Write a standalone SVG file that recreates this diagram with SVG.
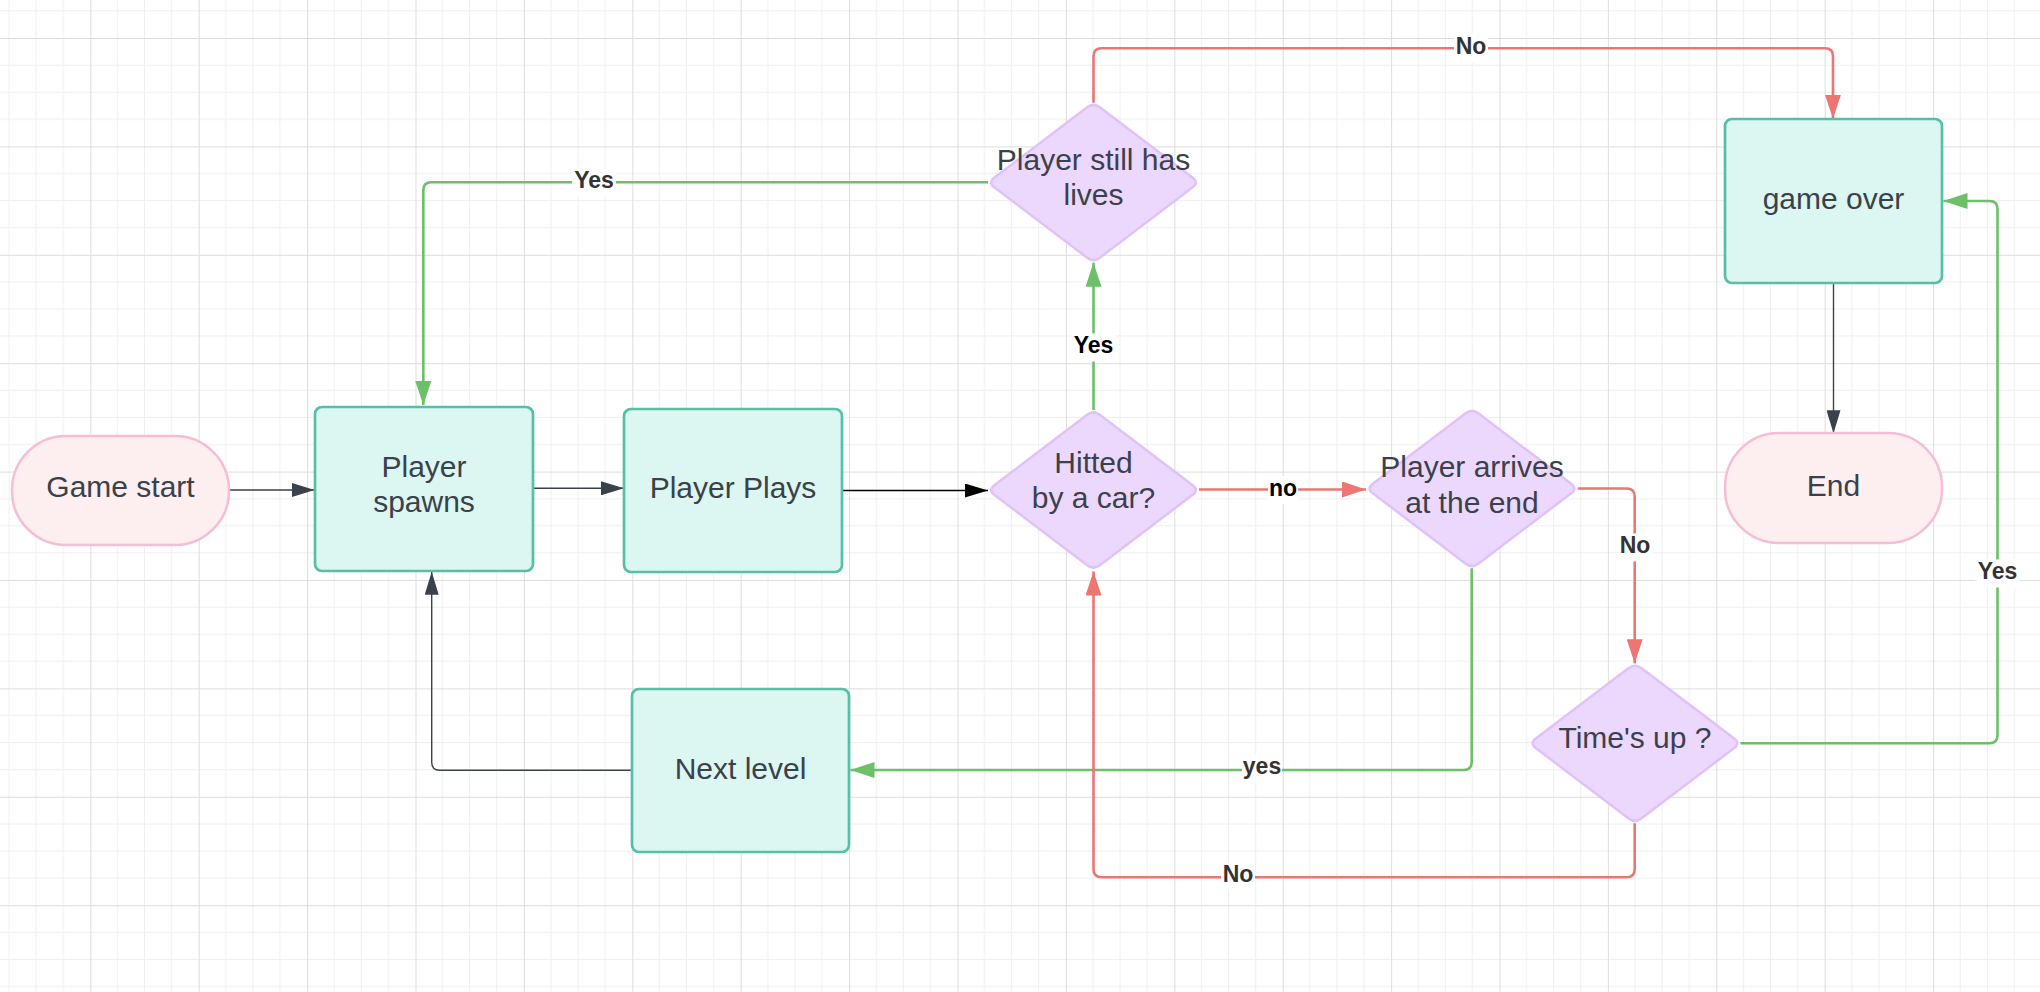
<svg xmlns="http://www.w3.org/2000/svg" xmlns:xlink="http://www.w3.org/1999/xlink" width="2040" height="992" viewBox="0 0 2040 992">
  <style>
    .proc { fill:#dcf6f1; stroke:#55c0a6; stroke-width:2.7; }
    .term { fill:#fdeef0; stroke:#f5bdd6; stroke-width:2.5; }
    .dec { fill:#ecd8fc; stroke:#dfc2f8; stroke-width:2.5; }
    .t { font-family:"Liberation Sans", Arial, sans-serif; font-size:30px; fill:#3a414a; text-anchor:middle; }
    .lbl { font-family:"Liberation Sans", Arial, sans-serif; font-size:23px; font-weight:bold; fill:#333333; text-anchor:middle; }
    .lblk { fill:#000000; }
    .bg { fill:#ffffff; stroke:none; }
    .c { fill:none; stroke-linejoin:round; }
    .c-dark { stroke:#3a414a; stroke-width:1.4; }
    .c-black { stroke:#000000; stroke-width:1.5; }
    .c-green { stroke:#6cc068; stroke-width:2.6; }
    .c-red { stroke:#ec7671; stroke-width:2.6; }
  </style>
  <defs>
    <pattern id="grid" patternUnits="userSpaceOnUse" x="90.3" y="38" width="108.4" height="108.4">
      <path d="M27.1,0V108.4M54.2,0V108.4M81.3,0V108.4M0,27.1H108.4M0,54.2H108.4M0,81.3H108.4" stroke="#eeeeee" stroke-width="1" fill="none"/>
      <path d="M0.5,0V108.4M0,0.5H108.4" stroke="#dddddd" stroke-width="1" fill="none"/>
    </pattern>
    <path id="diamond" d="M6.3,-75.2 L99.2,-4.8 Q105.5,0 99.2,4.8 L6.3,75.2 Q0,80 -6.3,75.2 L-99.2,4.8 Q-105.5,0 -99.2,-4.8 L-6.3,-75.2 Q0,-80 6.3,-75.2 Z"/>
    <marker id="a-dark" markerUnits="userSpaceOnUse" markerWidth="23" markerHeight="14" refX="23" refY="7" orient="auto">
      <path d="M0,0 L23,7 L0,14 Z" fill="#3a414a"/>
    </marker>
    <marker id="a-black" markerUnits="userSpaceOnUse" markerWidth="23" markerHeight="14" refX="23" refY="7" orient="auto">
      <path d="M0,0 L23,7 L0,14 Z" fill="#000000"/>
    </marker>
    <marker id="a-green" markerUnits="userSpaceOnUse" markerWidth="24" markerHeight="16" refX="24" refY="8" orient="auto">
      <path d="M0,0 L24,8 L0,16 Z" fill="#6cc068"/>
    </marker>
    <marker id="a-red" markerUnits="userSpaceOnUse" markerWidth="24" markerHeight="16" refX="24" refY="8" orient="auto">
      <path d="M0,0 L24,8 L0,16 Z" fill="#ec7671"/>
    </marker>
  </defs>

  <rect x="0" y="0" width="2040" height="992" fill="#ffffff"/>
  <rect x="0" y="0" width="2040" height="992" fill="url(#grid)"/>

  <g id="connectors">
    <path class="c c-dark" d="M229.6,490 H314.6" marker-end="url(#a-dark)"/>
    <path class="c c-dark" d="M533,488.3 H624" marker-end="url(#a-dark)"/>
    <path class="c c-black" d="M842,490.5 H988" marker-end="url(#a-black)"/>
    <path class="c c-red" d="M1199,489.5 H1366" marker-end="url(#a-red)"/>
    <path class="c c-green" d="M1093.5,410 V262.7" marker-end="url(#a-green)"/>
    <path class="c c-green" d="M988,182.3 H431.3 Q423.3,182.3 423.3,190.3 V405" marker-end="url(#a-green)"/>
    <path class="c c-red" d="M1093.5,102.7 V56.3 Q1093.5,48.3 1101.5,48.3 H1825 Q1833,48.3 1833,56.3 V118.8" marker-end="url(#a-red)"/>
    <path class="c c-dark" d="M1833.5,283.5 V433.3" marker-end="url(#a-dark)"/>
    <path class="c c-green" d="M1740.5,743.3 H1989.5 Q1997.5,743.3 1997.5,735.3 V209 Q1997.5,201 1989.5,201 H1943.5" marker-end="url(#a-green)"/>
    <path class="c c-red" d="M1577.7,488.5 H1626.7 Q1634.7,488.5 1634.7,496.5 V663.3" marker-end="url(#a-red)"/>
    <path class="c c-green" d="M1471.7,568.3 V762 Q1471.7,770 1463.7,770 H850.5" marker-end="url(#a-green)"/>
    <path class="c c-red" d="M1634.7,823.3 V869.3 Q1634.7,877.3 1626.7,877.3 H1101.5 Q1093.5,877.3 1093.5,869.3 V571.5" marker-end="url(#a-red)"/>
    <path class="c c-dark" d="M632,770.3 H439.7 Q431.7,770.3 431.7,762.3 V571.7" marker-end="url(#a-dark)"/>

    <rect class="bg" x="1071.5" y="333.5" width="44" height="28"/>
    <text class="lbl lblk" x="1093.5" y="352.5">Yes</text>
    <rect class="bg" x="572" y="169" width="44" height="28"/>
    <text class="lbl" x="594" y="188">Yes</text>
    <rect class="bg" x="1454" y="34.5" width="34" height="28"/>
    <text class="lbl" x="1471" y="53.5">No</text>
    <rect class="bg" x="1268" y="476" width="30" height="28"/>
    <text class="lbl lblk" x="1283" y="495.5">no</text>
    <rect class="bg" x="1618" y="533.5" width="34" height="28"/>
    <text class="lbl" x="1635" y="552.5">No</text>
    <rect class="bg" x="1975.5" y="559.5" width="44" height="28"/>
    <text class="lbl" x="1997.5" y="578.5">Yes</text>
    <rect class="bg" x="1242" y="755" width="40" height="28"/>
    <text class="lbl" x="1262" y="774">yes</text>
    <rect class="bg" x="1221" y="863" width="34" height="28"/>
    <text class="lbl" x="1238" y="882">No</text>
  </g>

  <g id="game-start">
    <rect class="term" x="12" y="436" width="217" height="109" rx="54" ry="54"/>
    <text class="t" x="120.5" y="497">Game start</text>
  </g>
  <g id="player-spawns">
    <rect class="proc" x="315" y="407" width="218" height="164" rx="7"/>
    <text class="t" x="424" y="476.5">Player</text>
    <text class="t" x="424" y="511.5">spawns</text>
  </g>
  <g id="player-plays">
    <rect class="proc" x="624" y="409" width="218" height="163" rx="7"/>
    <text class="t" x="733" y="498">Player Plays</text>
  </g>
  <g id="next-level">
    <rect class="proc" x="632" y="689" width="217" height="163" rx="7"/>
    <text class="t" x="740.5" y="778.5">Next level</text>
  </g>
  <g id="still-lives">
    <use href="#diamond" xlink:href="#diamond" class="dec" x="1093.5" y="182.5"/>
    <text class="t" x="1093.5" y="170">Player still has</text>
    <text class="t" x="1093.5" y="205">lives</text>
  </g>
  <g id="hitted">
    <use href="#diamond" xlink:href="#diamond" class="dec" x="1093.5" y="490"/>
    <text class="t" x="1093.5" y="473">Hitted</text>
    <text class="t" x="1093.5" y="508">by a car?</text>
  </g>
  <g id="arrives">
    <use href="#diamond" xlink:href="#diamond" class="dec" x="1472" y="488.5"/>
    <text class="t" x="1472" y="477">Player arrives</text>
    <text class="t" x="1472" y="512.5">at the end</text>
  </g>
  <g id="times-up">
    <use href="#diamond" xlink:href="#diamond" class="dec" x="1635" y="743.3"/>
    <text class="t" x="1635" y="748">Time's up ?</text>
  </g>
  <g id="game-over">
    <rect class="proc" x="1725" y="119" width="217" height="164" rx="7"/>
    <text class="t" x="1833.5" y="208.5">game over</text>
  </g>
  <g id="end">
    <rect class="term" x="1725" y="433" width="217" height="110" rx="54" ry="54"/>
    <text class="t" x="1833.5" y="495.5">End</text>
  </g>
</svg>
